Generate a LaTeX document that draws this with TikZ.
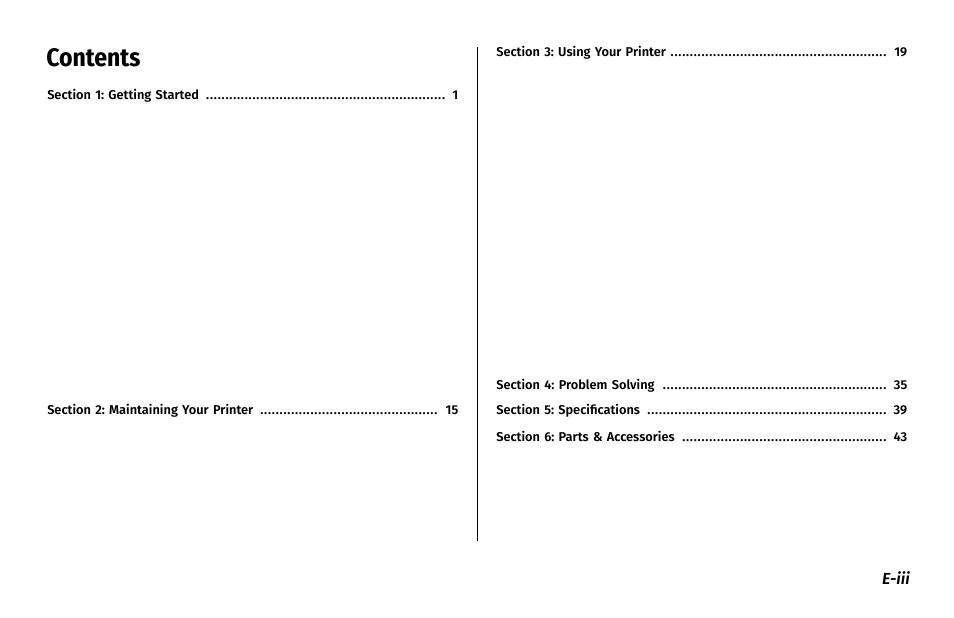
\documentclass[tikz,border=0pt]{standalone}
\usepackage{fontspec}
\setmainfont{Fira Sans}[BoldFont={* SemiBold},BoldItalicFont={* SemiBold Italic}]
\newfontfamily\headfont{Fira Sans Condensed}[BoldFont={* Bold}]
\newcommand{\dotrow}{\leaders\hbox to 2.9pt{\hss.\hss}\hfill}
\begin{document}
\begin{tikzpicture}[x=0.75pt,y=-0.75pt]
  \tikzset{entry/.style={anchor=west, inner sep=0pt, text width=308.25pt,
      font=\frenchspacing\bfseries\fontsize{9.6}{11}\selectfont}}
  \useasboundingbox (0,0) rectangle (954,618);
  \node[anchor=west, inner sep=0pt, font=\headfont\bfseries\fontsize{19}{23}\selectfont] (title) at (46,58) {Contents};
  \node[entry] (s1) at (47,96) {Section 1: Getting Started \dotrow\ 1};
  \node[entry] (s2) at (47,411) {Section 2: Maintaining Your Printer \dotrow\ 15};
  \node[entry] (s3) at (496,53) {Section 3: Using Your Printer \dotrow\ 19};
  \node[entry] (s4) at (496,386) {Section 4: Problem Solving \dotrow\ 35};
  \node[entry] (s5) at (496,411) {Section 5: Specifications \dotrow\ 39};
  \node[entry] (s6) at (496,436) {Section 6: Parts \& Accessories \dotrow\ 43};
  \draw[line width=0.6pt] (477,47) -- (477,541);
  \node[anchor=east, inner sep=0pt, font=\bfseries\itshape\fontsize{12}{14}\selectfont] (page) at (910,578) {E-iii};
\end{tikzpicture}
\end{document}
